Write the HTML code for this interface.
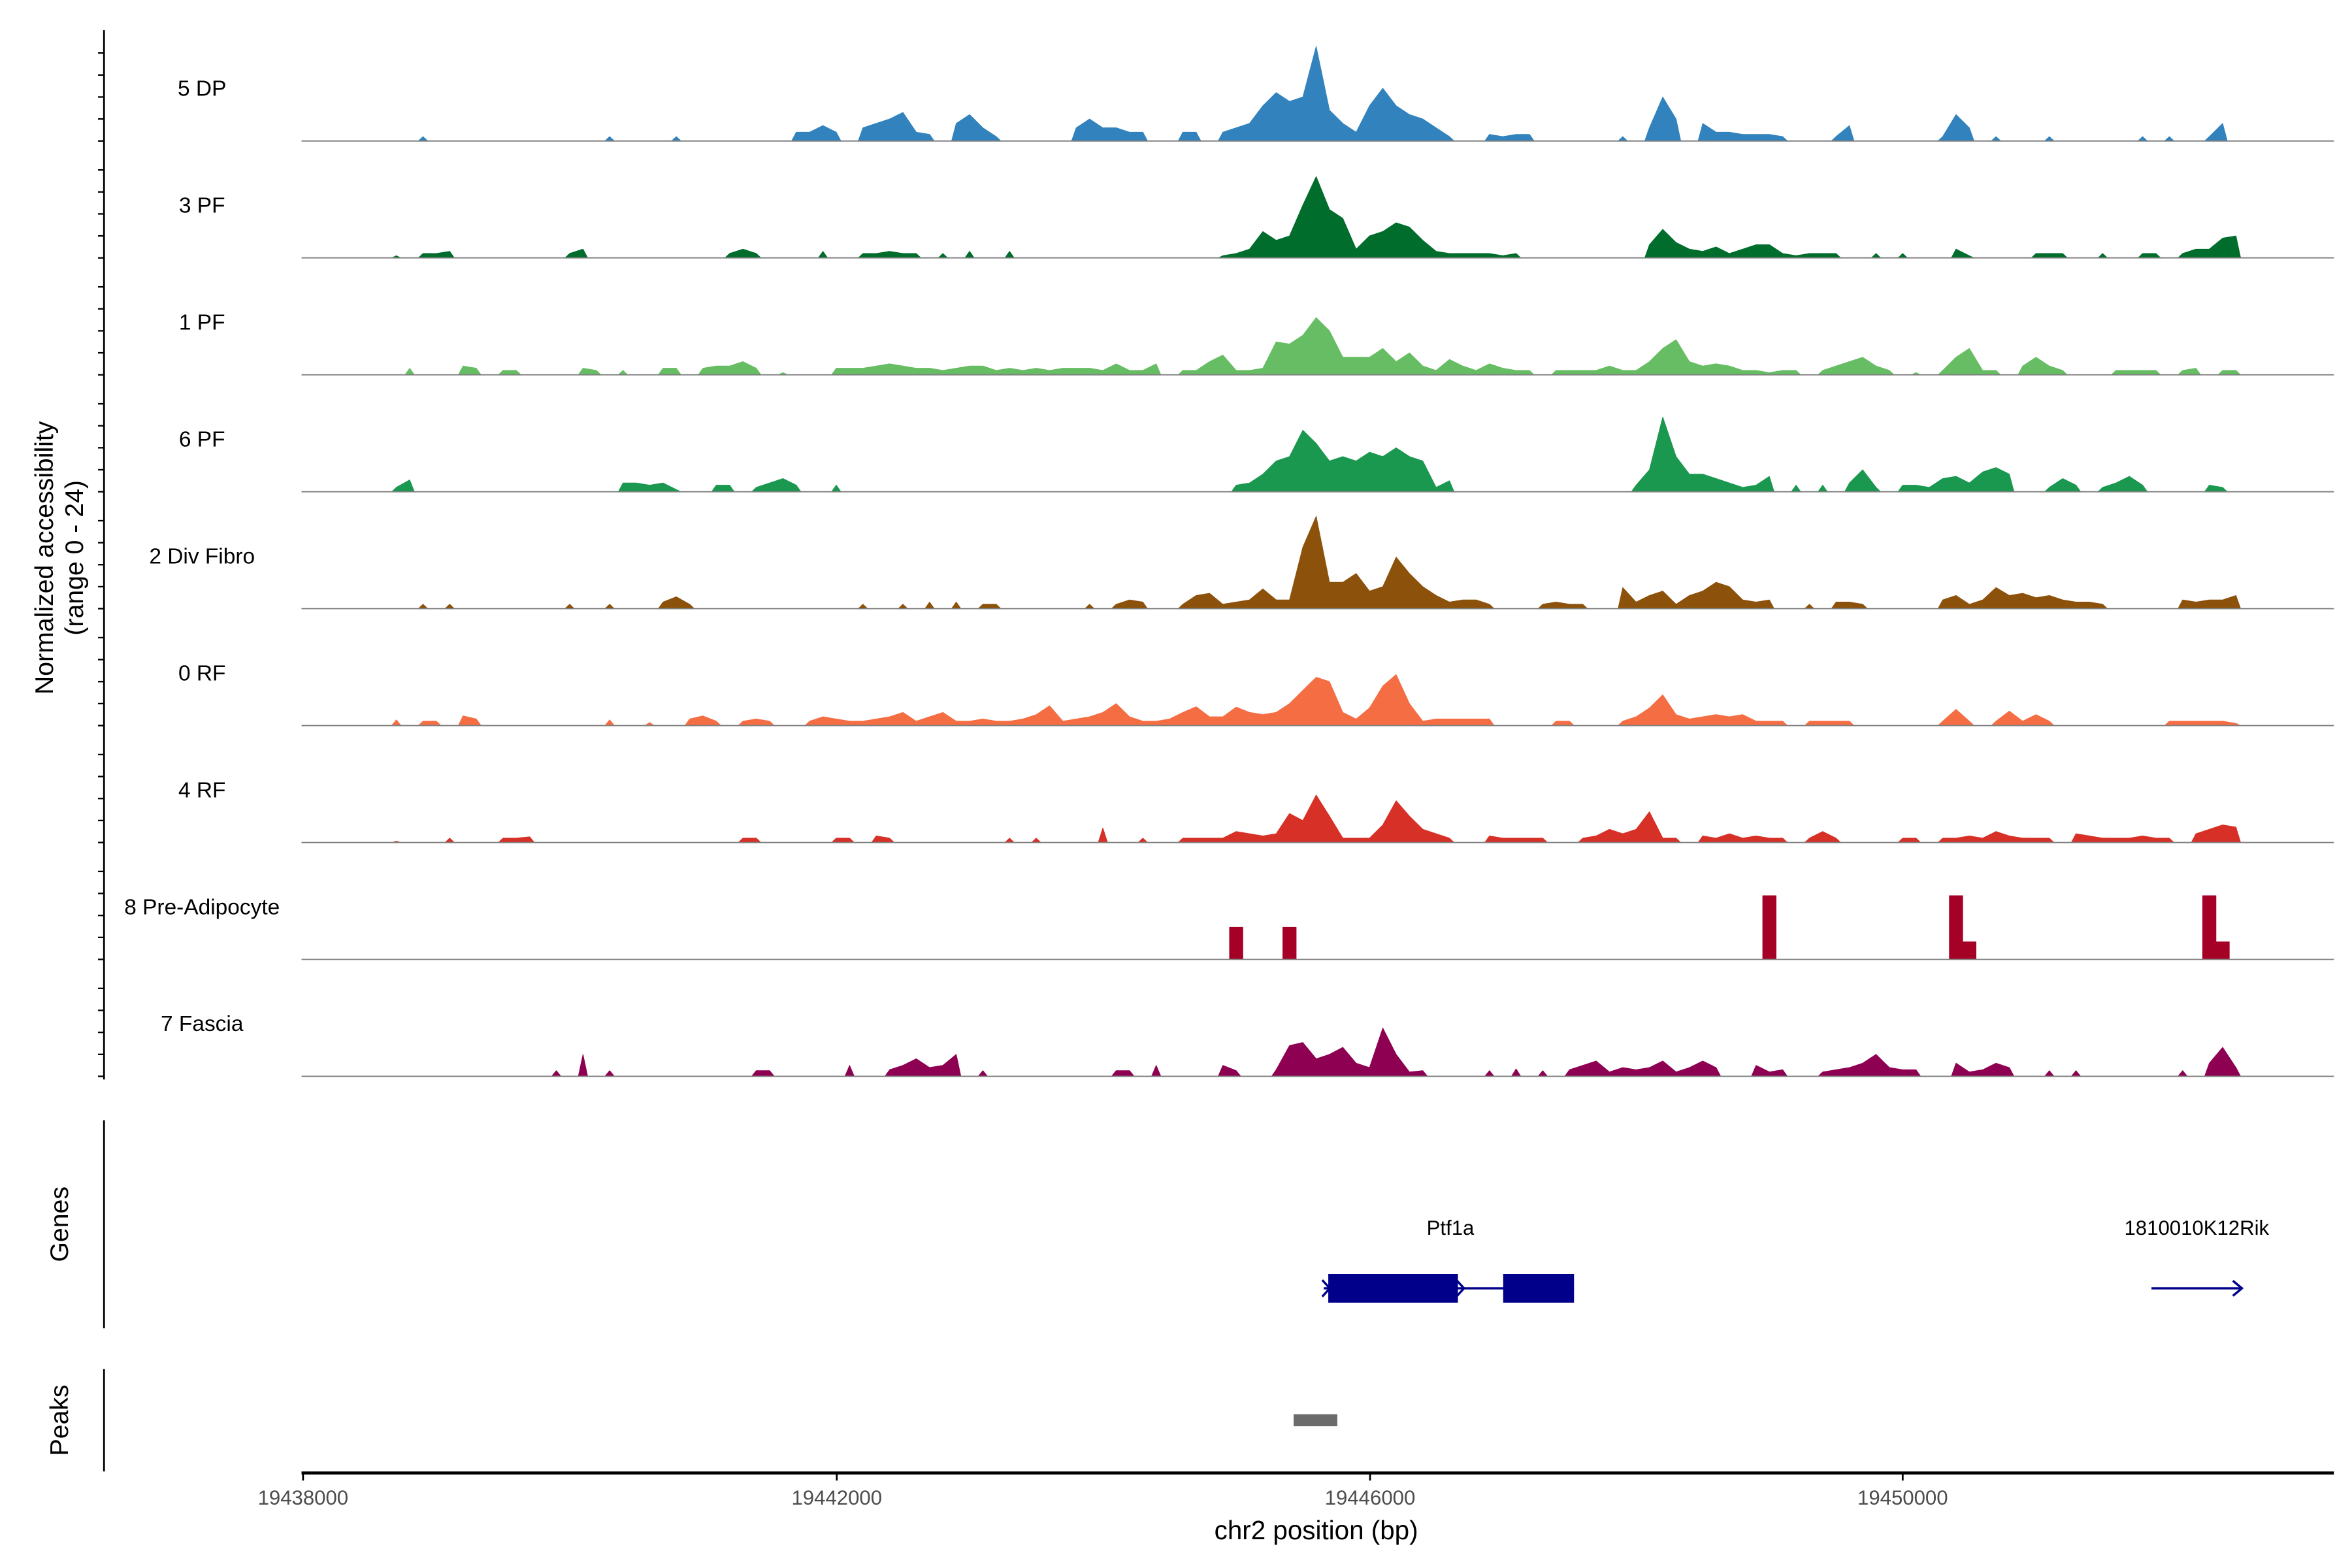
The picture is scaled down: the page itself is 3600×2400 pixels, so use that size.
<!DOCTYPE html>
<html><head><meta charset="utf-8"><style>
html,body{margin:0;padding:0;background:#fff;overflow:hidden;}
svg{display:block;font-family:"Liberation Sans",Arial,sans-serif;}
</style></head><body>
<svg id="chart" width="3600" height="2400" viewBox="0 0 1560 1040" xmlns="http://www.w3.org/2000/svg" style="position:absolute;left:0;top:0">
<g id="tracks"></g>
<g id="axes"></g>
</svg>
<script>
// genomic axis
const xDomain = [19438000, 19450000];
const xTicks = [19438000, 19442000, 19446000, 19450000];
const binOrigin = 19438450; // start bp of bin 0
const binSize = 100;
const yMax = 24;
const yTickValues = [0, 5, 10, 15, 20];
const trackNames = ["5 DP","3 PF","1 PF","6 PF","2 Div Fibro","0 RF","4 RF","8 Pre-Adipocyte","7 Fascia"];
const trackColors = ["#3182bd","#006d2c","#66bd63","#1a9850","#8c510a","#f46d43","#d73027","#a50026","#8e0152"];
// [binIndex, value]
const cov5DP = [[4,1],[18,1],[23,1],[32,2],[33,2],[34,3.5],[35,2],[37,3],[38,4],[39,5],[40,6.5],[41,2],[42,1.5],[44,4],[45,6],[46,3],[47,1],[53,3],[54,5],[55,3],[56,3],[57,2],[58,2],[61,2],[62,2],[64,2],[65,3],[66,4],[67,8],[68,11],[69,9],[70,10],[71,21.5],[72,7],[73,4],[74,2],[75,8],[76,12],[77,8],[78,6],[79,5],[80,3],[81,1],[84,1.5],[85,1],[86,1.5],[87,1.5],[94,1],[96,3],[97,10],[98,5],[100,4],[101,2],[102,2],[103,1.5],[104,1.5],[105,1.5],[106,1],[110,1],[111,3.5],[118,1],[119,6],[120,3],[122,1],[126,1],[133,1],[135,1],[138,1],[139,4]];
const cov3PF = [[2,0.5],[4,1],[5,1],[6,1.5],[15,1],[16,2],[27,1],[28,2],[29,1],[34,1.5],[37,1],[38,1],[39,1.5],[40,1],[41,1],[43,1],[45,1.5],[48,1.5],[64,0.5],[65,1],[66,2],[67,6],[68,4],[69,5],[70,12],[71,18.5],[72,11],[73,9],[74,2],[75,5],[76,6],[77,8],[78,7],[79,4],[80,1.5],[81,1],[82,1],[83,1],[84,1],[85,0.5],[86,1],[96,3],[97,6.5],[98,3.5],[99,2],[100,1.5],[101,2.5],[102,1],[103,2],[104,3],[105,3],[106,1],[107,0.5],[108,1],[109,1],[110,1],[113,1],[115,1],[119,2],[120,0.5],[125,1],[126,1],[127,1],[130,1],[133,1],[134,1],[136,1],[137,2],[138,2],[139,4.5],[140,5]];
const cov1PF = [[3,1.5],[7,2],[8,1.5],[10,1],[11,1],[16,1.5],[17,1],[19,1],[22,1.5],[23,1.5],[25,1.5],[26,2],[27,2],[28,3],[29,1.5],[31,0.5],[35,1.5],[36,1.5],[37,1.5],[38,2],[39,2.5],[40,2],[41,1.5],[42,1.5],[43,1],[44,1.5],[45,2],[46,2],[47,1],[48,1.5],[49,1],[50,1.5],[51,1],[52,1.5],[53,1.5],[54,1.5],[55,1],[56,2.5],[57,1],[58,1],[59,2.5],[61,1],[62,1],[63,3],[64,4.5],[65,1],[66,1],[67,1.5],[68,7.5],[69,7],[70,9],[71,13],[72,10],[73,4],[74,4],[75,4],[76,6],[77,3],[78,5],[79,2],[80,1],[81,3.5],[82,2],[83,1],[84,2.5],[85,1.5],[86,1],[87,1],[89,1],[90,1],[91,1],[92,1],[93,2],[94,1],[95,1],[96,3],[97,6],[98,8],[99,3],[100,2],[101,2.5],[102,2],[103,1],[104,1],[105,0.5],[106,1],[107,1],[109,1],[110,2],[111,3],[112,4],[113,2],[114,1],[116,0.5],[118,1],[119,4],[120,6],[121,1],[122,1],[124,2],[125,4],[126,2],[127,1],[131,1],[132,1],[133,1],[134,1],[136,1],[137,1.5],[139,1],[140,1]];
const cov6PF = [[2,1],[3,2.7],[19,2],[20,2],[21,1.5],[22,2],[23,0.5],[26,1.5],[27,1.5],[29,1],[30,2],[31,3],[32,1.5],[35,1.5],[65,1.5],[66,2],[67,4],[68,7],[69,8],[70,14],[71,11],[72,7],[73,8],[74,7],[75,9],[76,8],[77,10],[78,8],[79,7],[80,1],[81,2.5],[95,1.5],[96,5],[97,17],[98,8],[99,4],[100,4],[101,3],[102,2],[103,1],[104,1.5],[105,3.5],[107,1.5],[109,1.5],[111,2],[112,5],[113,1],[115,1.5],[116,1.5],[117,1],[118,3],[119,3.5],[120,2],[121,4.5],[122,5.5],[123,4],[126,1],[127,3],[128,1.5],[130,1],[131,2],[132,3.5],[133,1.5],[138,1.5],[139,1]];
const cov2Div = [[4,1],[6,1],[15,1],[18,1],[22,1.5],[23,2.7],[24,1],[37,1],[40,1],[42,1.5],[44,1.5],[46,1],[47,1],[54,1],[56,1],[57,2],[58,1.5],[61,1],[62,3],[63,3.5],[64,1],[65,1.5],[66,2],[67,4.5],[68,2],[69,2],[70,14],[71,21],[72,6],[73,6],[74,8],[75,4],[76,5],[77,11.7],[78,8],[79,5],[80,3],[81,1.5],[82,2],[83,2],[84,1],[88,1],[89,1.5],[90,1],[91,1],[94,4.8],[95,1.5],[96,3],[97,4],[98,1],[99,3],[100,4],[101,6],[102,5],[103,2],[104,1.5],[105,2],[108,1],[110,1.5],[111,1.5],[112,1],[118,2],[119,3],[120,1],[121,2],[122,4.8],[123,3],[124,3.5],[125,2.5],[126,3],[127,2],[128,1.5],[129,1.5],[130,1],[136,2],[137,1.5],[138,2],[139,2],[140,3]];
const cov0RF = [[2,1.3],[4,1],[5,1],[7,2.2],[8,1.5],[18,1.3],[21,0.7],[24,1.5],[25,2.2],[26,1],[28,1],[29,1.5],[30,1],[33,1],[34,2],[35,1.5],[36,1],[37,1],[38,1.5],[39,2],[40,3],[41,1],[42,2],[43,3],[44,1],[45,1],[46,1.5],[47,1],[48,1],[49,1.5],[50,2.5],[51,4.5],[52,1],[53,1.5],[54,2],[55,3],[56,5],[57,2],[58,1],[59,1],[60,1.5],[61,3],[62,4.3],[63,2],[64,2],[65,4.2],[66,3],[67,2.5],[68,3],[69,5],[70,8],[71,11],[72,10],[73,3],[74,1.5],[75,4],[76,9],[77,11.6],[78,5],[79,1],[80,1.5],[81,1.5],[82,1.5],[83,1.5],[84,1.5],[89,1],[90,1],[94,1],[95,2],[96,4],[97,7],[98,2.5],[99,1.5],[100,2],[101,2.5],[102,2],[103,2.5],[104,1],[105,1],[106,1],[108,1],[109,1],[110,1],[111,1],[118,1],[119,3.7],[120,1],[122,1],[123,3.3],[124,1],[125,2.5],[126,1],[135,1],[136,1],[137,1],[138,1],[139,1],[140,0.5]];
const cov4RF = [[2,0.3],[6,1],[10,1],[11,1],[12,1.3],[28,1],[29,1],[35,1],[36,1],[38,1.5],[39,1],[48,1],[50,1],[55,3.3],[58,1],[61,1],[62,1],[63,1],[64,1],[65,2.5],[66,2],[67,1.5],[68,2],[69,6.6],[70,5],[71,10.8],[72,6],[73,1],[74,1],[75,1],[76,4],[77,9.5],[78,6],[79,3],[80,2],[81,1],[84,1.5],[85,1],[86,1],[87,1],[88,1],[91,1],[92,1.5],[93,3],[94,2],[95,3],[96,7],[97,1],[98,1],[100,1.5],[101,1],[102,2],[103,1],[104,1.5],[105,1],[106,1],[108,1],[109,2.5],[110,1],[115,1],[116,1],[118,1],[119,1],[120,1.5],[121,1],[122,2.5],[123,1.5],[124,1],[125,1],[126,1],[128,2],[129,1.5],[130,1],[131,1],[132,1],[133,1.5],[134,1],[135,1],[137,2],[138,3],[139,4],[140,3.5]];
const cov8Pre = [[65,7.3],[69,7.3],[105,14.5],[119,14.5],[120,4],[138,14.5],[139,4]];
const cov7Fas = [[14,1.3],[16,5],[18,1.3],[29,1.3],[30,1.3],[36,2.5],[39,1.5],[40,2.5],[41,4],[42,2],[43,2.5],[44,5],[46,1.3],[56,1.3],[57,1.3],[59,2.5],[64,2.5],[65,1.3],[68,1.5],[69,7],[70,7.7],[71,4],[72,5],[73,6.6],[74,3],[75,2],[76,11],[77,5],[78,1],[79,1.3],[84,1.3],[86,1.7],[88,1.3],[90,1.5],[91,2.5],[92,3.5],[93,1],[94,2],[95,1.5],[96,2],[97,3.5],[98,1],[99,2],[100,3.5],[101,2],[104,2.5],[105,1],[106,1.5],[109,1],[110,1.5],[111,2],[112,3],[113,5],[114,2],[115,1.5],[116,1.5],[119,3],[120,1],[121,1.5],[122,3],[123,2],[126,1.3],[128,1.3],[136,1.3],[138,3],[139,6.6],[140,2]];
const coverage = [cov5DP,cov3PF,cov1PF,cov6PF,cov2Div,cov0RF,cov4RF,cov8Pre,cov7Fas];
const trackSlugs = ["5-dp","3-pf","1-pf","6-pf","2-div-fibro","0-rf","4-rf","8-pre-adipocyte","7-fascia"];
const stepTracks = ["8-pre-adipocyte"];

const NS = "http://www.w3.org/2000/svg";
const X0 = 201, X1 = 1262;
function xScale(bp){ return X0 + (bp - xDomain[0]) * (X1 - X0) / (xDomain[1] - xDomain[0]); }
const firstBase = 93.5, trackStep = 77.55, trackH = 70;
function yScale(v, base){ return base - v * trackH / yMax; }
function mk(tag, attrs, parent){ const e = document.createElementNS(NS, tag); for (const k in attrs) e.setAttribute(k, attrs[k]); parent.appendChild(e); return e; }

const gT = document.getElementById('tracks');
const gA = document.getElementById('axes');

coverage.forEach((data, t) => {
  const base = firstBase + t * trackStep;
  const g = mk('g', {}, gT);
  
  
  const lab = mk('text', {x:134, y: base - 30, 'text-anchor':'middle', 'font-size':14.5, fill:'#000'}, g);
  lab.textContent = trackNames[t];
  
  
  const sorted = data.filter(p => p[1] > 0).sort((a,b)=>a[0]-b[0]);
  const step = stepTracks.includes(trackSlugs[t]);
  // group into runs of consecutive bins
  const runs = [];
  sorted.forEach(p => {
    const last = runs[runs.length-1];
    if (last && last[last.length-1][0] === p[0]-1) last.push(p); else runs.push([p]);
  });
  let d = '';
  runs.forEach(run => {
    if (step) {
      d += 'M' + xScale(binOrigin + run[0][0]*binSize).toFixed(2) + ',' + base;
      run.forEach(([i,v]) => {
        d += 'V' + yScale(v, base).toFixed(2) + 'H' + xScale(binOrigin + (i+1)*binSize).toFixed(2);
      });
      d += 'V' + base + 'Z';
    } else {
      const xs = xScale(binOrigin + run[0][0]*binSize + 15);
      d += 'M' + xs.toFixed(2) + ',' + base;
      run.forEach(([i,v]) => {
        const xc = xScale(binOrigin + i*binSize + binSize/2);
        d += 'L' + xc.toFixed(2) + ',' + yScale(v, base).toFixed(2);
      });
      const li = run[run.length-1][0];
      d += 'L' + xScale(binOrigin + (li+1)*binSize - 15).toFixed(2) + ',' + base + 'Z';
    }
  });
  const p = mk('path', {d: d, fill: trackColors[t], stroke: trackColors[t], 'stroke-width': 0.4, 'stroke-linejoin':'round'}, g);
  
  
  const bl = mk('line', {x1:200, x2:1548, y1:base, y2:base, stroke:'#7f7f7f', 'stroke-width':0.8}, g);
  
  
  yTickValues.forEach(v => {
    const y = yScale(v, base);
    const tk = mk('line', {x1:65, x2:69, y1:y, y2:y, stroke:'#000', 'stroke-width':1}, gA);
    
    
  });
});
</script>
<svg style="position:absolute;left:0;top:0" width="3600" height="2400" viewBox="0 0 1560 1040" xmlns="http://www.w3.org/2000/svg" font-family="Liberation Sans, Arial, sans-serif">
  <line x1="69" y1="20" x2="69" y2="716" stroke="#000" stroke-width="1.2"/>
  <text transform="translate(35,370) rotate(-90)" text-anchor="middle" font-size="17" fill="#000">Normalized accessibility</text>
  <text transform="translate(55,370) rotate(-90)" text-anchor="middle" font-size="17" fill="#000">(range 0 - 24)</text>

  <g>
    <line x1="69" y1="743" x2="69" y2="881" stroke="#000" stroke-width="1.2"/>
    <text transform="translate(45,812) rotate(-90)" text-anchor="middle" font-size="17" fill="#000">Genes</text>
    <text x="962" y="819" text-anchor="middle" font-size="13.5" fill="#000">Ptf1a</text>
    <line x1="878" y1="854.5" x2="1044" y2="854.5" stroke="#00008b" stroke-width="1.5"/>
    <polyline points="877,849 882,854.5 877,860" fill="none" stroke="#00008b" stroke-width="1.5"/>
    <rect x="881" y="845" width="86" height="19" fill="#00008b"/>
    <polyline points="966,849 971,854.5 966,860" fill="none" stroke="#00008b" stroke-width="1.5"/>
    <rect x="997" y="845" width="47" height="19" fill="#00008b"/>
    <text x="1457" y="819" text-anchor="middle" font-size="13.5" fill="#000">1810010K12Rik</text>
    <line x1="1427" y1="854.5" x2="1487" y2="854.5" stroke="#00008b" stroke-width="1.5"/>
    <polyline points="1481,849.5 1487,854.5 1481,859.5" fill="none" stroke="#00008b" stroke-width="1.5"/>
  </g>

  <g>
    <line x1="69" y1="908" x2="69" y2="976" stroke="#000" stroke-width="1.2"/>
    <text transform="translate(45,942) rotate(-90)" text-anchor="middle" font-size="17" fill="#000">Peaks</text>
    <rect x="858" y="938" width="29" height="8" fill="#6b6b6b"/>
  </g>

  <g>
    <line x1="200" y1="977" x2="1548" y2="977" stroke="#000" stroke-width="2"/>
    <line x1="201" y1="977" x2="201" y2="982" stroke="#000" stroke-width="1.2"/>
    <line x1="555" y1="977" x2="555" y2="982" stroke="#000" stroke-width="1.2"/>
    <line x1="908.7" y1="977" x2="908.7" y2="982" stroke="#000" stroke-width="1.2"/>
    <line x1="1262" y1="977" x2="1262" y2="982" stroke="#000" stroke-width="1.2"/>
    <text x="201" y="998" text-anchor="middle" font-size="13.5" fill="#4d4d4d">19438000</text>
    <text x="555" y="998" text-anchor="middle" font-size="13.5" fill="#4d4d4d">19442000</text>
    <text x="908.7" y="998" text-anchor="middle" font-size="13.5" fill="#4d4d4d">19446000</text>
    <text x="1262" y="998" text-anchor="middle" font-size="13.5" fill="#4d4d4d">19450000</text>
    <text x="873" y="1021" text-anchor="middle" font-size="17.5" fill="#000">chr2 position (bp)</text>
  </g>
</svg>
</body></html>
